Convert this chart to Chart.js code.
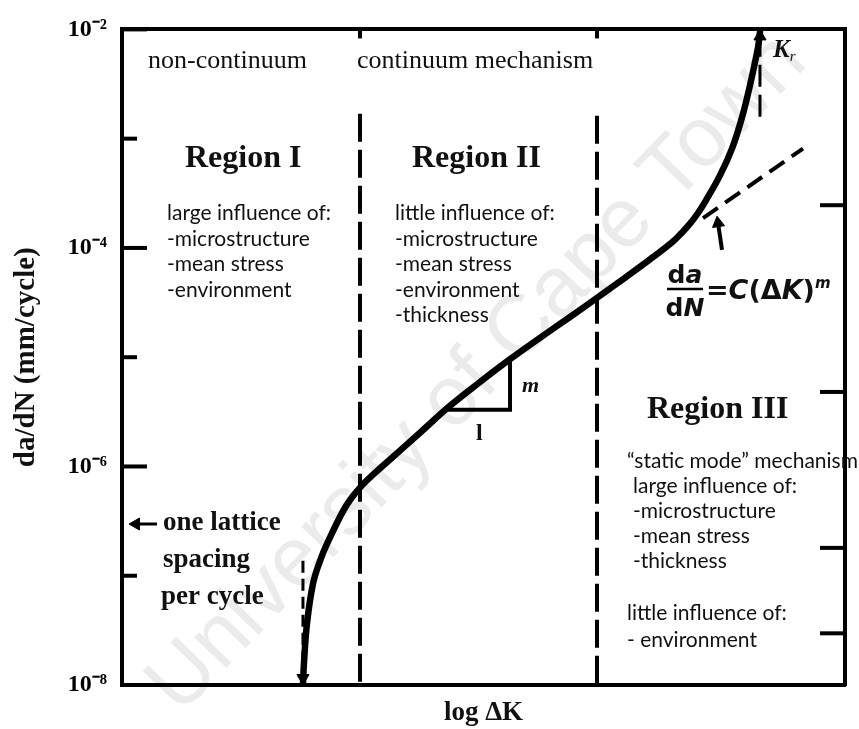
<!DOCTYPE html>
<html>
<head>
<meta charset="utf-8">
<script src="https://cdn.jsdelivr.net/npm/chart.js@4.4.1/dist/chart.umd.min.js"></script>
<style>
  html, body { margin: 0; padding: 0; background: #fff; }
</style>
</head>
<body>
<canvas id="chart" width="859" height="729"></canvas>
<script>
// x: log dK in arbitrary units (0..10), y: log10 of da/dN (mm/cycle)
var curveX = [2.503, 2.517, 2.559, 2.642, 2.739, 2.835, 3.057, 3.181, 3.320, 3.499, 3.707, 4.122, 4.537, 4.952,
              5.367, 5.781, 6.196, 6.584, 6.957, 7.303, 7.621, 7.732, 7.856, 7.967, 8.077, 8.271, 8.437, 8.562,
              8.658, 8.741, 8.797, 8.824];
var curveY = [-8.0, -7.8, -7.436, -7.073, -6.864, -6.709, -6.409, -6.282, -6.173, -6.059, -5.936, -5.691, -5.445,
              -5.227, -5.018, -4.823, -4.632, -4.45, -4.273, -4.105, -3.941, -3.868, -3.778, -3.68, -3.564, -3.336,
              -3.091, -2.836, -2.591, -2.345, -2.164, -2.027];

// region boundaries (dashed) and where they start at the top
var regionBounds = [3.292, 6.570];
var boundTop = [-2.773, -2.791];

// threshold and K_c asymptotes
var thresholdX = [2.503, 2.503];
var thresholdY = [-6.864, -8.0];
var toughX = [8.824, 8.824];
var toughY = [-2.8, -2.06];

// Paris law extension
var parisX = [8.036, 9.419];
var parisY = [-3.727, -3.091];

// slope triangle
var slopeX = [4.440, 5.367, 5.367];
var slopeY = [-5.482, -5.482, -5.045];

// little arrow under the tangent and the lattice arrow
var pointerX = [8.299, 8.250];
var pointerY = [-4.018, -3.80];
var latticeX = [0.484, 0.17];
var latticeY = [-6.527, -6.527];

// arrow heads
var headX = [2.503, 8.824, 8.244, 0.194];
var headY = [-7.936, -2.064, -3.773, -6.527];
var headRot = [180, 0, -8, -90];

// axis ticks
var yTicks = [-8, -7, -6, -5, -4, -3, -2];
var rightTicks = [-3.609, -5.318, -6.745, -7.527];

var SERIF = '"Liberation Serif", "Times New Roman", serif';
var SANS = 'Lato, "Open Sans", sans-serif';
var WIDE = '"DejaVu Sans", Verdana, sans-serif';
var INK = '#111';

function pts(xs, ys) {
  return xs.map(function (x, i) { return { x: x, y: ys[i] }; });
}

var supMap = { '-': '\u207B', '0': '\u2070', '1': '\u00B9', '2': '\u00B2', '3': '\u00B3', '4': '\u2074',
               '5': '\u2075', '6': '\u2076', '7': '\u2077', '8': '\u2078', '9': '\u2079' };
function sup(v) {
  return String(v).split('').map(function (c) { return supMap[c] || c; }).join('');
}

// text blocks: [text, x, baseline, font]
var notes = [
  ['non-continuum', 148, 68, '26px ' + SERIF],
  ['continuum mechanism', 357, 68, '26px ' + SERIF],
  ['Region I', 185, 167, 'bold 32px ' + SERIF],
  ['Region II', 412, 167, 'bold 32px ' + SERIF],
  ['Region III', 647, 418, 'bold 32px ' + SERIF],
  ['one lattice', 163, 530, 'bold 27px ' + SERIF],
  ['spacing', 163, 567, 'bold 27px ' + SERIF],
  ['per cycle', 161, 604, 'bold 27px ' + SERIF],
  ['m', 522, 392, 'bold italic 22px ' + SERIF],
  ['l', 476, 440, 'bold 24px ' + SERIF]
];
var list1 = ['large influence of:', '-microstructure', '-mean stress', '-environment'];
var list2 = ['little influence of:', '-microstructure', '-mean stress', '-environment', '-thickness'];
var list3 = [
  ['\u201Cstatic mode\u201D mechanism', 627, 468],
  ['large influence of:', 633, 493],
  ['-microstructure', 633, 518],
  ['-mean stress', 633, 543],
  ['-thickness', 633, 568],
  ['little influence of:', 627, 620],
  ['- environment', 627, 647]
];

function drawRuns(ctx, x, y, runs, align) {
  var w = 0;
  runs.forEach(function (r) { ctx.font = r[1]; w += ctx.measureText(r[0]).width; });
  var cx = align === 'center' ? x - w / 2 : x;
  runs.forEach(function (r) {
    ctx.font = r[1];
    ctx.fillText(r[0], cx, y + (r[2] || 0));
    cx += ctx.measureText(r[0]).width;
  });
}

function line(ctx, x1, y1, x2, y2) {
  ctx.beginPath();
  ctx.moveTo(x1, y1);
  ctx.lineTo(x2, y2);
  ctx.stroke();
}

var watermark = {
  id: 'watermark',
  beforeDraw: function (chart) {
    var ctx = chart.ctx;
    ctx.save();
    ctx.translate(180, 716);
    ctx.rotate(-46 * Math.PI / 180);
    ctx.font = '84px "Liberation Sans", Arial, sans-serif';
    ctx.fillStyle = '#ebebeb';
    ctx.textBaseline = 'alphabetic';
    ctx.fillText('University of Cape Town', 0, 0);
    ctx.restore();
  }
};

var decorations = {
  id: 'decorations',
  afterDraw: function (chart) {
    var ctx = chart.ctx, a = chart.chartArea, sx = chart.scales.x, sy = chart.scales.y;
    ctx.save();
    ctx.strokeStyle = '#000';
    ctx.lineWidth = 4;
    ctx.lineCap = 'butt';
    // inward ticks
    sy.ticks.forEach(function (t) {
      var py = sy.getPixelForValue(t.value);
      line(ctx, a.left, py, a.left + (t.value % 2 === 0 ? 25 : 15), py);
    });
    rightTicks.forEach(function (v) {
      var py = sy.getPixelForValue(v);
      line(ctx, a.right, py, a.right - 25, py);
    });
    regionBounds.forEach(function (v) {
      var px = sx.getPixelForValue(v);
      line(ctx, px, a.top, px, a.top + 9);
    });

    ctx.fillStyle = INK;
    ctx.textAlign = 'left';
    ctx.textBaseline = 'alphabetic';
    notes.forEach(function (n) {
      ctx.font = n[3];
      ctx.fillText(n[0], n[1], n[2]);
    });
    ctx.font = '21px ' + SANS;
    list1.forEach(function (s, i) { ctx.fillText(s, 167, 220 + 25.5 * i); });
    list2.forEach(function (s, i) { ctx.fillText(s, 395, 220 + 25.5 * i); });
    list3.forEach(function (s) { ctx.fillText(s[0], s[1], s[2]); });

    // K_r
    drawRuns(ctx, 773, 57, [['K', 'bold italic 25px ' + SERIF], ['r', 'italic 15px ' + SERIF, 4]]);

    // da/dN = C(dK)^m
    var F = 'bold 25px ' + WIDE, FI = 'italic bold 25px ' + WIDE;
    var B = 'bold 27px ' + WIDE, BI = 'italic bold 27px ' + WIDE;
    drawRuns(ctx, 685, 283, [['d', F], ['a', FI]], 'center');
    drawRuns(ctx, 685, 316, [['d', F], ['N', FI]], 'center');
    ctx.lineWidth = 2.5;
    line(ctx, 667, 289, 703, 289);
    drawRuns(ctx, 706, 299, [['=', B], ['C', BI], ['(\u0394', B], ['K', BI], [')', B],
                             ['m', 'italic bold 15px ' + WIDE, -11]]);
    ctx.restore();
  }
};

var tickFont = { family: SERIF, size: 24, weight: 'bold' };

new Chart(document.getElementById('chart'), {
  type: 'scatter',
  data: {
    datasets: [
      { data: pts(curveX, curveY), showLine: true, borderColor: '#000', borderWidth: 6.5, pointRadius: 0,
        tension: 0.4, borderCapStyle: 'round' },
      { data: pts(headX, headY), showLine: false, pointStyle: 'triangle', pointRadius: 7,
        pointRotation: headRot, backgroundColor: '#000', borderColor: '#000', borderWidth: 1 },
      { data: pts(slopeX, slopeY), showLine: true, borderColor: '#000', borderWidth: 4, pointRadius: 0,
        borderJoinStyle: 'miter' },
      { data: pts(pointerX, pointerY), showLine: true, borderColor: '#000', borderWidth: 4, pointRadius: 0 },
      { data: pts(latticeX, latticeY), showLine: true, borderColor: '#000', borderWidth: 3, pointRadius: 0 },
      { data: pts(parisX, parisY), showLine: true, borderColor: '#000', borderWidth: 4, pointRadius: 0,
        borderDash: [18, 9] },
      { data: pts(thresholdX, thresholdY), showLine: true, borderColor: '#000', borderWidth: 3, pointRadius: 0,
        borderDash: [12, 6] },
      { data: pts(toughX, toughY), showLine: true, borderColor: '#000', borderWidth: 3, pointRadius: 0,
        borderDash: [22, 8] },
      { data: pts([regionBounds[0], regionBounds[0]], [boundTop[0], -8]), showLine: true, borderColor: '#000',
        borderWidth: 4, pointRadius: 0, borderDash: [28, 8] },
      { data: pts([regionBounds[1], regionBounds[1]], [boundTop[1], -8]), showLine: true, borderColor: '#000',
        borderWidth: 4, pointRadius: 0, borderDash: [28, 8] }
    ]
  },
  options: {
    responsive: false,
    animation: false,
    layout: { padding: { top: 25, right: 14, left: 0, bottom: 0 } },
    plugins: { legend: { display: false }, tooltip: { enabled: false } },
    scales: {
      x: {
        type: 'linear', position: 'bottom', min: 0, max: 10,
        ticks: { display: false },
        grid: { display: false, drawTicks: false },
        border: { display: true, width: 4, color: '#000' },
        title: { display: true, text: 'log \u0394K', color: INK, padding: 0,
                 font: { family: SERIF, size: 27, weight: 'bold' } },
        afterFit: function (s) { s.height = 44; }
      },
      xTop: {
        type: 'linear', position: 'top', min: 0, max: 10,
        ticks: { display: false },
        grid: { display: false, drawTicks: false },
        border: { display: true, width: 4, color: '#000' },
        afterFit: function (s) { s.height = 0; }
      },
      y: {
        type: 'linear', position: 'left', min: -8, max: -2,
        afterBuildTicks: function (s) { s.ticks = yTicks.map(function (v) { return { value: v }; }); },
        ticks: {
          autoSkip: false, padding: 15, color: '#000', font: tickFont,
          callback: function (v) { return v % 2 === 0 ? '10' + sup(v) : ''; }
        },
        grid: { display: false, drawTicks: false },
        border: { display: true, width: 4, color: '#000' },
        title: { display: true, text: 'da/dN (mm/cycle)', color: INK, padding: { top: 9, bottom: 0 },
                 font: { family: SERIF, size: 29, weight: 'bold' } },
        afterFit: function (s) { s.width = 122; }
      },
      yRight: {
        type: 'linear', position: 'right', min: -8, max: -2,
        ticks: { display: false },
        grid: { display: false, drawTicks: false },
        border: { display: true, width: 4, color: '#000' },
        afterFit: function (s) { s.width = 0; }
      }
    }
  },
  plugins: [watermark, decorations]
});
</script>
</body>
</html>
